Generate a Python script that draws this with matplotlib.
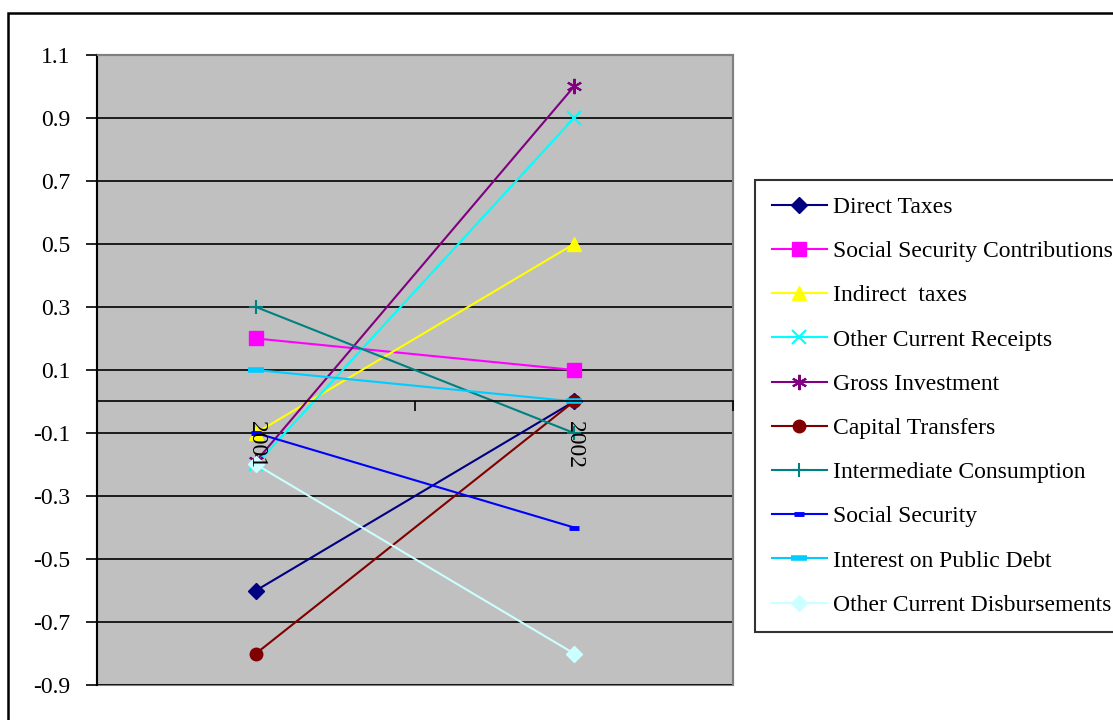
import matplotlib
matplotlib.use("Agg")
import matplotlib.pyplot as plt
from matplotlib.patches import Rectangle
import numpy as np

plt.rcParams['font.family'] = ['Liberation Serif', 'DejaVu Serif']

years = ['2001', '2002']
series_names = ['Direct Taxes', 'Social Security Contributions', 'Indirect  taxes',
                'Other Current Receipts', 'Gross Investment', 'Capital Transfers',
                'Intermediate Consumption', 'Social Security', 'Interest on Public Debt',
                'Other Current Disbursements']
direct_taxes = [-0.6, 0.0]
social_security_contrib = [0.2, 0.1]
indirect_taxes = [-0.1, 0.5]
other_current_receipts = [-0.2, 0.9]
gross_investment = [-0.19, 1.0]
capital_transfers = [-0.8, 0.0]
intermediate_consumption = [0.3, -0.1]
social_security = [-0.1, -0.4]
interest_public_debt = [0.1, 0.0]
other_current_disb = [-0.2, -0.8]
y_ticks = [-0.9, -0.7, -0.5, -0.3, -0.1, 0.1, 0.3, 0.5, 0.7, 0.9, 1.1]
y_tick_labels = ['-0.9', '-0.7', '-0.5', '-0.3', '-0.1', '0.1', '0.3', '0.5', '0.7', '0.9', '1.1']

values = [direct_taxes, social_security_contrib, indirect_taxes, other_current_receipts,
          gross_investment, capital_transfers, intermediate_consumption, social_security,
          interest_public_debt, other_current_disb]
colors = ['#000080', '#FF00FF', '#FFFF00', '#00FFFF', '#800080', '#800000',
          '#008080', '#0000FF', '#00CCFF', '#CCFFFF']
styles = [
    dict(marker='D', ms=8),
    dict(marker='s', ms=10),
    dict(marker='^', ms=10),
    dict(marker='x', ms=10, mew=1.5),
    dict(marker=(6, 2, 0), ms=11, mew=1.5),
    dict(marker='o', ms=9),
    dict(marker='+', ms=10, mew=1.5),
    dict(marker='_', ms=7, mew=3.5),
    dict(marker='_', ms=11, mew=4),
    dict(marker='D', ms=8),
]

W, H = 1113, 720
fig = plt.figure(figsize=(W / 100, H / 100), dpi=100)
fig.patch.set_facecolor('white')

# outer chart border
fig.patches.append(Rectangle((8 / W, -0.05), 1.2, (720 - 13) / H + 0.05, transform=fig.transFigure,
                             fill=False, edgecolor='black', linewidth=1.8, zorder=0))

ax = fig.add_axes([97 / W, 1 - 685 / H, (733 - 97) / W, (685 - 55) / H])
ax.set_facecolor('#C0C0C0')
x = np.arange(len(years))

for yt in y_ticks:
    ax.axhline(yt, color='black', lw=1.2, zorder=1)

for name, vals, c, st in zip(series_names, values, colors, styles):
    ax.plot(x, vals, color=c, lw=1.5, label=name, mec=c, mfc=c, zorder=2, **st)

ax.set_xlim(-0.5, len(years) - 0.5)
ax.set_ylim(-0.9, 1.1)
ax.set_axisbelow(False)

ax.set_yticks(y_ticks)
ax.set_yticklabels(y_tick_labels, fontsize=17)
ax.tick_params(axis='y', length=8, width=1.2, pad=11, direction='out', colors='black')

ax.spines['bottom'].set_position(('data', 0))
ax.spines['bottom'].set_linewidth(1.2)
ax.spines['left'].set_linewidth(1.5)
for s in ['top', 'right']:
    ax.spines[s].set_color('#808080')
    ax.spines[s].set_linewidth(1.5)
ax.add_patch(Rectangle((0, 0), 1, 1, transform=ax.transAxes, fill=False,
                       edgecolor='#808080', lw=1.5, zorder=0.5, clip_on=False))

ax.set_xticks(x)
ax.set_xticklabels(years, fontsize=17, rotation=270, va='top', ha='center')
ax.tick_params(axis='x', which='major', length=0, pad=14)
ax.set_xticks(np.arange(-0.5, len(years), 1.0), minor=True)
ax.tick_params(axis='x', which='minor', length=7, width=1.2, direction='out')

leg = fig.legend(loc='upper left', bbox_to_anchor=(755 / W, 1 - 180 / H),
                 bbox_transform=fig.transFigure, fontsize=17, frameon=True,
                 fancybox=False, edgecolor='black', handlelength=2.35,
                 handletextpad=0.25, labelspacing=0.96, borderpad=0.7,
                 borderaxespad=0)
leg.get_frame().set_linewidth(1.5)

fig.savefig('out.png', dpi=100, facecolor='white')
